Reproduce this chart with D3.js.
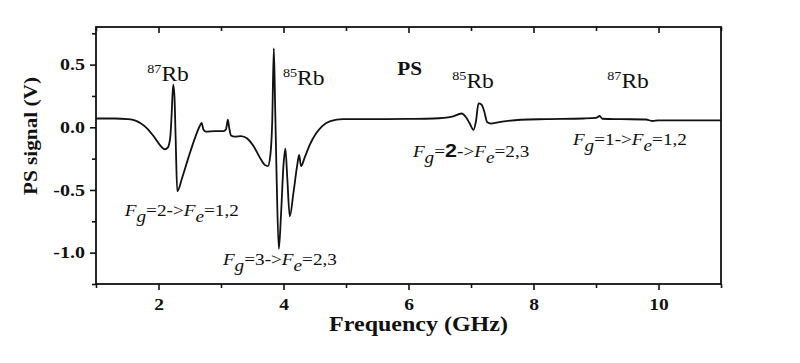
<!DOCTYPE html>
<html>
<head>
<meta charset="utf-8">
<script src="https://cdn.jsdelivr.net/npm/d3@7/dist/d3.min.js"></script>
<style>
body { margin: 0; background: #fff; }
svg { display: block; }
text { font-family: "Liberation Serif", "Times New Roman", serif; fill: #111; }
</style>
</head>
<body>
<div id="chart"></div>
<script>
/*global d3*/
// values
var freq = [1.00, 1.30, 1.50, 1.62, 1.72, 1.82, 1.92, 2.02, 2.10, 2.15, 2.19, 2.21, 2.235, 2.255, 2.275, 2.30,
    2.38, 2.48, 2.58, 2.66, 2.69, 2.72, 2.76, 2.90, 3.04, 3.08, 3.11, 3.13, 3.16, 3.22, 3.32, 3.42, 3.52,
    3.62, 3.70, 3.75, 3.79, 3.82, 3.845, 3.865, 3.89, 3.925, 3.96, 4.00, 4.03, 4.06, 4.10, 4.16, 4.22, 4.25,
    4.28, 4.34, 4.42, 4.52, 4.62, 4.75, 4.95, 5.50, 6.00, 6.40, 6.70, 6.85, 6.92, 6.98, 7.04, 7.08, 7.12,
    7.17, 7.21, 7.26, 7.32, 7.50, 7.80, 8.20, 8.80, 9.00, 9.06, 9.10, 9.40, 9.80, 9.90, 10.0, 10.5, 11.0];
var signal = [0.07, 0.07, 0.065, 0.055, 0.03, -0.01, -0.07, -0.14, -0.175, -0.16, -0.07, 0.10, 0.34, 0.25, -0.10, -0.51,
    -0.40, -0.24, -0.09, 0.01, 0.035, -0.02, -0.035, -0.03, -0.03, -0.015, 0.06, 0.0, -0.065, -0.075, -0.07, -0.09, -0.15,
    -0.24, -0.30, -0.31, -0.22, 0.05, 0.63, 0.20, -0.40, -0.97, -0.70, -0.30, -0.17, -0.40, -0.71, -0.52, -0.30, -0.22,
    -0.31, -0.24, -0.14, -0.05, 0.01, 0.05, 0.065, 0.065, 0.067, 0.07, 0.085, 0.11, 0.08, 0.03, -0.02, 0.05, 0.19,
    0.18, 0.13, 0.04, 0.03, 0.045, 0.06, 0.065, 0.07, 0.075, 0.09, 0.068, 0.065, 0.062, 0.05, 0.055, 0.055, 0.055];

var xTicks = [2, 4, 6, 8, 10],
    xMinorTicks = [1, 3, 5, 7, 9, 11],
    yTicks = [-1.0, -0.5, 0.0, 0.5],
    yMinorTicks = [-1.25, -0.75, -0.25, 0.25, 0.75],
    xTitle = "Frequency (GHz)",
    yTitle = "PS signal (V)";

// isotope labels and transition labels, anchored in data units (freq, V)
var isotopes = [["87", "Rb"], ["85", "Rb"], ["85", "Rb"], ["87", "Rb"]],
    isotopeAt = [[1.82, 0.37], [3.99, 0.34], [6.70, 0.31], [9.18, 0.31]],
    transitions = [["2", "1,2"], ["3", "2,3"], ["2", "2,3"], ["1", "1,2"]],
    transitionAt = [[1.46, -0.71], [3.03, -1.10], [6.07, -0.24], [8.63, -0.14]],
    boldTransition = 2,
    panelName = "PS",
    panelAt = [5.82, 0.42];

(function () {
    "use strict";
    var margin = {top: 27, right: 79, bottom: 79, left: 96},
        W = 800, H = 363,
        width = W - margin.left - margin.right,
        height = H - margin.top - margin.bottom,

        x = d3.scaleLinear().domain([1, 11]).range([0, width]),
        y = d3.scaleLinear().domain([-1.25, 0.8]).range([height, 0]),

        line = d3.line()
            .x(function (d) { return x(d[0]); })
            .y(function (d) { return y(d[1]); })
            .curve(d3.curveMonotoneX),

        svg = d3.select("#chart").append("svg")
            .attr("width", W)
            .attr("height", H),
        g = svg.append("g")
            .attr("transform", "translate(" + margin.left + "," + margin.top + ")");

    // text drawn a bit wide, like the scanned figure
    function wide(sel, px, py, k) {
        return sel.append("g").attr("transform", "translate(" + px + "," + py + ") scale(" + (k || 1.18) + ",1)")
            .append("text");
    }

    function styleAxis(a) {
        a.select(".domain").remove();
        a.selectAll("line").attr("stroke", "#111").attr("stroke-width", 1.6);
    }

    function tickFont(t) {
        t.style("font-size", "16px").style("font-weight", "bold")
            .style("font-family", "'Liberation Serif', 'Times New Roman', serif");
    }

    var fmtY = d3.format(".1f");

    // bottom axis
    var xb = g.append("g").attr("transform", "translate(0," + height + ")")
        .call(d3.axisBottom(x).tickValues(xTicks).tickSize(6).tickPadding(9).tickFormat(d3.format("d")));
    styleAxis(xb);
    xb.selectAll("text").attr("transform", "scale(1.22,1)").call(tickFont);
    g.append("g").attr("transform", "translate(0," + height + ")")
        .call(d3.axisBottom(x).tickValues(xMinorTicks).tickSize(4).tickFormat(""))
        .call(styleAxis);

    // top axis, ticks pointing in
    g.append("g").call(d3.axisTop(x).tickValues(xTicks).tickSize(-6).tickFormat("")).call(styleAxis);
    g.append("g").call(d3.axisTop(x).tickValues(xMinorTicks).tickSize(-4).tickFormat("")).call(styleAxis);

    // left axis
    var yl = g.append("g")
        .call(d3.axisLeft(y).tickValues(yTicks).tickSize(6)
            .tickFormat(function (d) { return fmtY(d).replace("\u2212", "-"); }));
    styleAxis(yl);
    yl.selectAll("text")
        .attr("x", 0)
        .attr("transform", "translate(-11,0) scale(1.25,1)")
        .call(tickFont);
    g.append("g")
        .call(d3.axisLeft(y).tickValues(yMinorTicks).tickSize(4).tickFormat(""))
        .call(styleAxis);

    // frame
    g.append("rect")
        .attr("width", width).attr("height", height)
        .attr("fill", "none").attr("stroke", "#111").attr("stroke-width", 1.8);

    // signal
    g.append("path")
        .datum(d3.zip(freq, signal))
        .attr("fill", "none")
        .attr("stroke", "#111")
        .attr("stroke-width", 1.8)
        .attr("stroke-linejoin", "round")
        .attr("d", line);

    // axis titles
    wide(svg, margin.left + width / 2 + 10, 331, 1.2)
        .attr("text-anchor", "middle")
        .style("font-size", "20px").style("font-weight", "bold")
        .text(xTitle);
    svg.append("g").attr("transform", "translate(37,136) rotate(-90) scale(1.18,1)")
        .append("text")
        .attr("text-anchor", "middle")
        .style("font-size", "18px").style("font-weight", "bold")
        .text(yTitle);

    // isotope labels
    isotopes.forEach(function (lab, i) {
        var t = wide(g, x(isotopeAt[i][0]), y(isotopeAt[i][1])).style("font-size", "20px");
        t.append("tspan").attr("dy", -8).style("font-size", "12px").text(lab[0]);
        t.append("tspan").attr("dy", 8).text(lab[1]);
    });

    wide(g, x(panelAt[0]), y(panelAt[1]))
        .style("font-size", "18px").style("font-weight", "bold")
        .text(panelName);

    // transition labels  F_g=a->F_e=b
    transitions.forEach(function (tr, i) {
        var t = wide(g, x(transitionAt[i][0]), y(transitionAt[i][1]), 1.13).style("font-size", "17px");
        t.append("tspan").style("font-style", "italic").text("F");
        t.append("tspan").attr("dy", 6).style("font-style", "italic").style("font-size", "17px").text("g");
        t.append("tspan").attr("dy", -6).text("=");
        if (i === boldTransition) {
            t.append("tspan").style("font-family", "'Liberation Sans', Arial, sans-serif").style("font-weight", "bold")
                .style("font-size", "19px").text(tr[0]);
        } else {
            t.append("tspan").text(tr[0]);
        }
        t.append("tspan").text("->");
        t.append("tspan").style("font-style", "italic").text("F");
        t.append("tspan").attr("dy", 6).style("font-style", "italic").style("font-size", "17px").text("e");
        t.append("tspan").attr("dy", -6).text("=" + tr[1]);
    });
}());
</script>
</body>
</html>
